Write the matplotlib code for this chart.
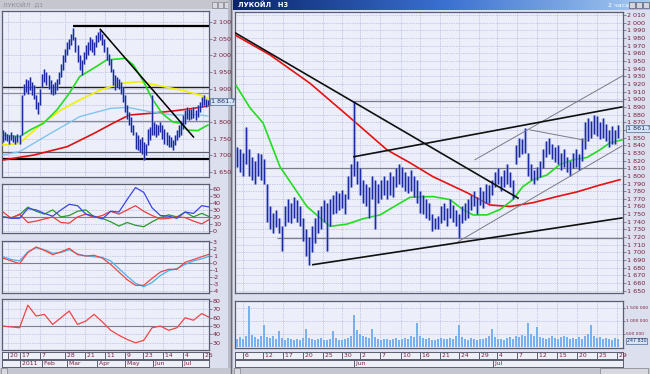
import matplotlib
matplotlib.use("Agg")
import matplotlib.pyplot as plt
import matplotlib.transforms as mtrans
from matplotlib.patches import Rectangle
from matplotlib.colors import LinearSegmentedColormap
import numpy as np

# ── Left window: daily bars (high, low) ────────
left_bars = [
    (1775, 1740), (1770, 1745), (1765, 1742), (1760, 1735), (1770, 1745),
    (1762, 1740), (1758, 1735), (1765, 1740), (1760, 1733), (1880, 1760),
    (1915, 1880), (1930, 1890), (1925, 1885), (1935, 1895), (1920, 1880),
    (1910, 1870), (1880, 1840), (1860, 1825), (1900, 1850), (1945, 1905),
    (1960, 1920), (1950, 1910), (1940, 1900), (1925, 1885), (1915, 1880),
    (1920, 1885), (1930, 1895), (1950, 1915), (1975, 1935), (2000, 1955),
    (2020, 1980), (2040, 2000), (2050, 2020), (2065, 2030), (2082, 2045),
    (2055, 2010), (2030, 1980), (2000, 1955), (1985, 1940), (2010, 1975),
    (2030, 1990), (2040, 2000), (2055, 2015), (2050, 2010), (2040, 2000),
    (2060, 2025), (2070, 2040), (2076, 2045), (2065, 2030), (2050, 2010),
    (2025, 1985), (2005, 1970), (1990, 1950), (1960, 1910), (1940, 1895),
    (1935, 1905), (1930, 1900), (1920, 1885), (1905, 1860), (1880, 1830),
    (1850, 1810), (1830, 1790), (1815, 1770), (1790, 1760), (1770, 1720),
    (1760, 1715), (1750, 1710), (1755, 1705), (1740, 1686), (1735, 1700),
    (1780, 1730), (1785, 1745), (1880, 1760), (1800, 1760), (1795, 1755),
    (1790, 1760), (1800, 1770), (1790, 1750), (1780, 1735), (1770, 1730),
    (1760, 1725), (1755, 1725), (1745, 1716), (1760, 1730), (1775, 1745),
    (1790, 1755), (1800, 1760), (1820, 1780), (1835, 1795), (1845, 1810),
    (1840, 1805), (1840, 1810), (1845, 1812), (1835, 1805), (1850, 1815),
    (1860, 1830), (1875, 1845), (1880, 1850), (1870, 1845), (1866, 1852),
]
left_high = [b[0] for b in left_bars]
left_low = [b[1] for b in left_bars]
last_close = 1861.7

# moving averages on the left chart: (bar index, price)
l_green = [(0, 1761), (8, 1756), (13, 1776), (19.5, 1796), (26, 1836), (32, 1886),
           (37, 1936), (45, 1966), (50, 1986), (59, 1991), (63, 1971), (68, 1920),
           (72, 1870), (77, 1825), (82, 1800), (86, 1796), (89, 1776), (94, 1774),
           (99, 1791)]
l_yellow = [(0, 1731), (8, 1736), (18, 1791), (28, 1836), (37, 1866), (47, 1896),
            (57, 1916), (66, 1921), (76, 1908), (86, 1896), (95, 1881), (99, 1871)]
l_lblue = [(0, 1701), (8, 1711), (23, 1766), (37, 1816), (52, 1841), (60, 1844),
           (71, 1831), (82, 1821), (95, 1821), (99, 1818)]
l_red = [(0, 1686), (15, 1701), (31, 1726), (44, 1766), (53, 1796), (61, 1821),
         (71, 1826), (82, 1833), (92, 1841), (99, 1848)]

l_hlines = [(2088, 34, "black", 1.6), (1905, -1, "#202020", 1.0),
            (1887, -1, "#8a8a9a", 0.9), (1803, -1, "#8a8a9a", 0.9),
            (1710, -1, "#606070", 0.9), (1689, -1, "black", 1.6)]
l_trend = [(47, 2078), (92, 1755)]

# indicators on the left chart
ind_x = list(range(0, 101, 4))
adx_blue = [20, 18, 18, 32, 30, 25, 21, 30, 38, 36, 24, 21, 17, 28, 27, 45,
            62, 55, 33, 22, 21, 18, 27, 25, 36, 34]
adx_red = [27, 18, 24, 12, 14, 17, 20, 12, 11, 20, 24, 19, 22, 28, 24, 30,
           36, 28, 22, 17, 18, 20, 19, 14, 10, 17]
adx_green = [20, 19, 23, 34, 28, 24, 30, 20, 22, 28, 30, 20, 18, 13, 7, 12,
             8, 6, 13, 19, 23, 20, 27, 20, 25, 20]
macd_signal = [0.9, 0.5, 0.3, 1.6, 2.2, 1.9, 1.4, 1.5, 1.9, 1.3, 1.0, 0.9, 0.8,
               0.3, -0.8, -1.9, -2.9, -3.4, -2.8, -1.8, -1.1, -0.8, -0.2, 0.3, 0.6, 1.0]
macd_line = [0.7, 0.3, -0.1, 1.5, 2.3, 1.8, 1.2, 1.6, 2.1, 1.2, 1.0, 1.1, 0.7,
             -0.2, -1.3, -2.4, -3.2, -3.2, -2.2, -1.3, -0.9, -0.9, 0.1, 0.5, 0.9, 1.3]
rsi = [50, 49, 48, 75, 62, 64, 52, 60, 68, 52, 56, 64, 55, 45, 39, 34, 30, 33,
       48, 50, 45, 48, 60, 57, 65, 60]

left_days = [(2.4, "20"), (8.2, "17"), (17.9, "7"), (30, "28"), (39.6, "21"),
             (49.3, "11"), (58.9, "9"), (67.6, "23"), (77.3, "14"), (87, "4"), (96.6, "25")]
left_months = [(8.2, "2011"), (18.8, "Feb"), (30.9, "Mar"), (45.4, "Apr"),
               (58.9, "May"), (72.5, "Jun"), (86.5, "Jul")]

# ── Right window: 2-hour bars (high, low) ──────
right_bars = [
    (1838, 1812), (1835, 1805), (1830, 1800), (1864, 1815), (1835, 1800),
    (1825, 1795), (1820, 1790), (1830, 1800), (1828, 1795), (1822, 1790),
    (1790, 1740), (1760, 1730), (1752, 1725), (1755, 1733), (1745, 1725),
    (1735, 1702), (1760, 1735), (1770, 1740), (1765, 1738), (1772, 1745),
    (1768, 1740), (1760, 1735), (1745, 1715), (1730, 1695), (1720, 1684),
    (1735, 1700), (1745, 1712), (1755, 1725), (1760, 1730), (1768, 1740),
    (1765, 1702), (1770, 1735), (1775, 1750), (1780, 1752), (1778, 1755),
    (1782, 1758), (1776, 1750), (1800, 1770), (1815, 1785), (1898, 1800),
    (1820, 1790), (1810, 1775), (1795, 1765), (1790, 1760), (1785, 1745),
    (1800, 1770), (1795, 1730), (1790, 1765), (1795, 1770), (1800, 1775),
    (1795, 1770), (1805, 1775), (1800, 1772), (1810, 1785), (1815, 1790),
    (1812, 1785), (1805, 1780), (1800, 1778), (1808, 1780), (1800, 1772),
    (1795, 1765), (1780, 1752), (1775, 1750), (1770, 1745), (1765, 1742),
    (1750, 1728), (1745, 1730), (1748, 1730), (1760, 1738), (1765, 1742),
    (1758, 1735), (1770, 1745), (1762, 1740), (1755, 1735), (1750, 1719),
    (1760, 1738), (1765, 1742), (1770, 1745), (1775, 1755), (1780, 1760),
    (1772, 1750), (1785, 1762), (1780, 1758), (1790, 1765), (1788, 1765),
    (1795, 1775), (1805, 1785), (1810, 1790), (1800, 1780), (1808, 1785),
    (1815, 1790), (1805, 1785), (1795, 1770), (1840, 1815), (1850, 1825),
    (1848, 1828), (1862, 1830), (1830, 1800), (1815, 1795), (1808, 1790),
    (1812, 1795), (1820, 1798), (1835, 1810), (1845, 1825), (1850, 1828),
    (1842, 1822), (1838, 1818), (1840, 1815), (1830, 1808), (1835, 1812),
    (1825, 1805), (1820, 1800), (1830, 1810), (1835, 1812), (1828, 1808),
    (1850, 1820), (1870, 1835), (1875, 1845), (1872, 1850), (1880, 1855),
    (1878, 1852), (1870, 1848), (1875, 1850), (1868, 1845), (1860, 1838),
    (1865, 1842), (1860, 1842), (1866, 1850),
]
right_high = [b[0] for b in right_bars]
right_low = [b[1] for b in right_bars]

volume_k = [
    320, 380, 300, 420, 1550, 450, 360, 300, 420, 850,
    380, 330, 400, 300, 600, 350, 280, 330, 300, 260,
    310, 280, 350, 700, 330, 290, 260, 300, 340, 280,
    250, 310, 600, 330, 280, 260, 300, 350, 420, 1200,
    650, 480, 400, 380, 330, 700, 360, 300, 280, 320,
    290, 260, 300, 330, 280, 310, 350, 300, 420, 380,
    900, 400, 350, 300, 330, 280, 260, 300, 340, 290,
    310, 350, 300, 420, 850, 380, 300, 270, 330, 300,
    260, 290, 310, 350, 400, 700, 380, 320, 300, 280,
    330, 360, 300, 420, 380, 450, 400, 900, 500, 420,
    750, 380, 330, 300, 350, 400, 330, 300, 360, 420,
    380, 300, 340, 320, 360, 300, 420, 500, 850, 400,
    330, 380, 300, 350, 320, 280, 330, 300,
]

r_red = [(-0.7, 1984), (11, 1958), (24.3, 1921), (37.7, 1876), (50, 1834),
         (57.7, 1817), (65.3, 1799), (76.7, 1778), (84.3, 1762), (91, 1760),
         (98.7, 1765), (106.7, 1773), (113.3, 1779), (121, 1788), (127.7, 1795)]
r_green = [(-0.3, 1918), (4.3, 1889), (8.7, 1869), (14.3, 1812), (23.3, 1760),
           (31, 1734), (36.7, 1737), (42, 1744), (47.7, 1749), (53.3, 1762),
           (57.7, 1772), (65.3, 1773), (71, 1769), (75.3, 1756), (78.7, 1749),
           (83.3, 1749), (87.7, 1756), (92, 1769), (95.3, 1786), (98.7, 1795),
           (103.3, 1801), (107.7, 1815), (112, 1821), (116.7, 1824), (121, 1834),
           (124.3, 1843), (128.3, 1847)]

r_black_lines = [[(-0.7, 1987), (93.7, 1771)],
                 [(39, 1825), (128.3, 1890)],
                 [(25.3, 1684), (128.3, 1745)]]
r_thin_lines = [[(79.3, 1821), (128.7, 1931)],
                [(97.7, 1860), (116.7, 1846)],
                [(73.7, 1714), (128.3, 1839)]]
r_hlines = [(1898, 39), (1810, 8.7), (1719, 13.3)]

right_days = [(2, "6"), (8.7, "12"), (15.3, "17"), (22, "20"), (28.7, "25"),
              (35, "30"), (41, "2"), (47.7, "7"), (54.7, "10"), (61, "16"),
              (67.7, "21"), (74, "24"), (80.7, "29"), (86.7, "4"), (93.3, "7"),
              (100, "12"), (106.7, "15"), (113.3, "20"), (120, "25"), (126.7, "29")]
right_months = [(39, "Jun"), (85.3, "Jul")]

# ── Style ──────────────────────────────────────
W, H = 650, 374
FIG_BG = "#dcdfee"
PANEL_BG = "#eceef9"
GRID = "#9fa8d8"
FRAME = "#5a5e70"
LBL = "#7a1f3d"
BAR = "#1c2aa0"
HALO = "#8c9ae6"


def px_rect(x0, y0, x1, y1):
    return [x0 / W, 1 - y1 / H, (x1 - x0) / W, (y1 - y0) / H]


def style_panel(ax, xlim, ylim, yticks, ylabels, xgrid, size=4.6, tick_len=2):
    ax.set_facecolor(PANEL_BG)
    ax.set_xlim(*xlim)
    ax.set_ylim(*ylim)
    for s in ax.spines.values():
        s.set_color(FRAME)
        s.set_linewidth(0.9)
    ax.yaxis.tick_right()
    ax.set_yticks(yticks)
    ax.set_yticklabels(ylabels)
    ax.tick_params(axis="y", length=tick_len, width=0.5, pad=0.8, colors=FRAME,
                   labelcolor=LBL, labelsize=size)
    ax.set_xticks(xgrid)
    ax.tick_params(axis="x", length=0, labelbottom=False)
    ax.grid(True, color=GRID, lw=0.5, ls=(0, (1, 1.5)))
    ax.set_axisbelow(True)


def fmt(v):
    return f"{v:,}".replace(",", " ")


def price_labels(ticks, hidden):
    # the value box sits on top of the tick it covers
    return ["" if v == hidden else fmt(v) for v in ticks]


def draw_line(ax, pts, **kw):
    ax.plot([p[0] for p in pts], [p[1] for p in pts], **kw)


def date_rows(ax_day, ax_mon, xlim, days, months):
    for ax, items in ((ax_day, days), (ax_mon, months)):
        ax.set_xlim(*xlim)
        ax.set_ylim(0, 1)
        ax.set_facecolor("#eef0f8")
        ax.set_xticks([])
        ax.set_yticks([])
        for s in ax.spines.values():
            s.set_color(FRAME)
            s.set_linewidth(0.7)
        for x, t in items:
            ax.axvline(x, color=FRAME, lw=0.7)
            ax.text(x, 0.45, " " + t, fontsize=4.4, color=LBL,
                    ha="left", va="center")


def value_box(ax, y, text, size=4.6):
    tr = mtrans.blended_transform_factory(ax.transAxes, ax.transData)
    ax.text(1.01, y, text, transform=tr, fontsize=size, color="#203060",
            ha="left", va="center", clip_on=False,
            bbox=dict(fc="#d6e4f6", ec="#4a6a90", lw=0.5, pad=0.6))


fig = plt.figure(figsize=(W / 100, H / 100), dpi=100)
fig.patch.set_facecolor(FIG_BG)

# ── Window chrome ──────────────────────────────
bg = fig.add_axes([0, 0, 1, 1], zorder=-5)
bg.set_xlim(0, W)
bg.set_ylim(H, 0)
bg.axis("off")
bg.add_patch(Rectangle((0, 0), 229, 9, fc="#c6c6ce", ec="none"))
bg.text(3, 4.5, "ЛУКОЙЛ  Д1", fontsize=4.5, color="#8e8e98", va="center")
for bx in (212, 218, 224):
    bg.add_patch(Rectangle((bx, 1.5), 5, 6, fc="#d8d8e0", ec="#707078", lw=0.4))
bg.add_patch(Rectangle((228, 0), 5, H, fc="#b8bac6", ec="none"))
bg.plot([231, 231], [0, H], color="#6c6c78", lw=1.0)
grad = LinearSegmentedColormap.from_list("title", ["#0a246a", "#3a6fd0", "#a6caf0"])
bg.imshow(np.linspace(0, 1, 256)[None, :], extent=(233, 650, 10, 0),
          cmap=grad, aspect="auto")
bg.text(238, 5, "ЛУКОЙЛ   H3", fontsize=4.8, color="white",
        fontweight="bold", va="center")
bg.text(608, 5, "2 часа", fontsize=4.5, color="white", va="center")
for bx in (629, 636, 643):
    bg.add_patch(Rectangle((bx, 2), 6, 6, fc="#d4d4dc", ec="#404050", lw=0.4))
bg.add_patch(Rectangle((0, 368), W, 6, fc="#c4c6d0", ec="none"))
bg.add_patch(Rectangle((1, 368), 6, 6, fc="#d8d8e0", ec="#707078", lw=0.4))
bg.add_patch(Rectangle((234, 368), 6, 6, fc="#d8d8e0", ec="#707078", lw=0.4))
bg.add_patch(Rectangle((600, 368), 48, 6, fc="#d8d8e0", ec="#707078", lw=0.4))

# ── Left: price panel ──────────────────────────
l_xlim = (-0.48, 99.5)
l_grid = [d[0] for d in left_days]
axL = fig.add_axes(px_rect(2, 11, 209, 177))
yt = list(range(1650, 2101, 50))
style_panel(axL, l_xlim, (1635, 2133), yt, price_labels(yt, 1850), l_grid)
for price, start, col, lw in l_hlines:
    axL.hlines(price, start, l_xlim[1], color=col, lw=lw, zorder=2)
draw_line(axL, l_red, color="#e01010", lw=1.2, zorder=3)
draw_line(axL, l_lblue, color="#7fc4f0", lw=1.0, zorder=3)
draw_line(axL, l_yellow, color="#f0f000", lw=1.2, zorder=3)
draw_line(axL, l_green, color="#22dd22", lw=1.2, zorder=3)
xs = list(range(len(left_high)))
axL.vlines(xs, left_low, left_high, color=HALO, lw=2.0, alpha=0.5, zorder=4)
axL.vlines(xs, left_low, left_high, color=BAR, lw=0.9, zorder=5)
draw_line(axL, l_trend, color="black", lw=1.1, zorder=6)
value_box(axL, last_close, fmt(last_close))

# ── Left: indicators ───────────────────────────
ax1 = fig.add_axes(px_rect(2, 184, 209, 233))
yt = list(range(0, 61, 10))
style_panel(ax1, l_xlim, (-3, 67), yt, [str(v) for v in yt], l_grid)
ax1.axhline(20, color="#7a7e90", lw=0.8)
ax1.plot(ind_x, adx_green, color="#2a9a2a", lw=0.9)
ax1.plot(ind_x, adx_red, color="#f03c3c", lw=0.9)
ax1.plot(ind_x, adx_blue, color="#3c46e6", lw=0.9)

ax2 = fig.add_axes(px_rect(2, 241, 209, 293))
yt = list(range(-4, 4))
style_panel(ax2, l_xlim, (-4.3, 3.15), yt, [str(v) for v in yt], l_grid)
ax2.axhline(0, color="#7a7e90", lw=0.8)
ax2.plot(ind_x, macd_signal, color="#46b4f0", lw=0.9)
ax2.plot(ind_x, macd_line, color="#f04646", lw=0.9)

ax3 = fig.add_axes(px_rect(2, 299, 209, 350))
yt = list(range(30, 81, 10))
style_panel(ax3, l_xlim, (21.4, 82.4), yt, [str(v) for v in yt], l_grid)
ax3.axhline(50, color="#7a7e90", lw=0.8)
ax3.plot(ind_x, rsi, color="#f04646", lw=0.9)

date_rows(fig.add_axes(px_rect(2, 352, 209, 359)),
          fig.add_axes(px_rect(2, 360, 209, 367)),
          l_xlim, left_days, left_months)

# ── Right: price panel ─────────────────────────
r_xlim = (-0.67, 128.7)
r_grid = [d[0] for d in right_days]
axR = fig.add_axes(px_rect(235, 12, 623, 293))
yt = list(range(1650, 2011, 10))
style_panel(axR, r_xlim, (1647, 2014), yt, price_labels(yt, 1860), r_grid)
for price, start in r_hlines:
    axR.hlines(price, start, r_xlim[1], color="#7c7c8a", lw=0.9, zorder=2)
draw_line(axR, r_red, color="#e81010", lw=1.2, zorder=3)
draw_line(axR, r_green, color="#22dd22", lw=1.2, zorder=3)
xs = list(range(len(right_high)))
axR.vlines(xs, right_low, right_high, color=HALO, lw=2.4, alpha=0.5, zorder=4)
axR.vlines(xs, right_low, right_high, color=BAR, lw=1.0, zorder=5)
for seg in r_thin_lines:
    draw_line(axR, seg, color="#7a7a88", lw=0.7, zorder=6)
for seg in r_black_lines:
    draw_line(axR, seg, color="#101010", lw=1.2, zorder=6)
value_box(axR, last_close, fmt(last_close))

# ── Right: volume panel ────────────────────────
axV = fig.add_axes(px_rect(235, 301, 623, 348))
vt = [500000, 1000000, 1500000]
style_panel(axV, r_xlim, (-40000, 1750000), vt, [fmt(v) for v in vt], r_grid,
            size=3.2, tick_len=1.5)
axV.bar(xs, [v * 1000 for v in volume_k], width=0.75, color="#78b0f0",
        edgecolor="none", zorder=3)
value_box(axV, 230000, "247 830", size=3.4)

date_rows(fig.add_axes(px_rect(235, 352, 623, 359)),
          fig.add_axes(px_rect(235, 360, 623, 367)),
          r_xlim, right_days, right_months)

plt.savefig("out.png", dpi=100, facecolor=fig.get_facecolor())
